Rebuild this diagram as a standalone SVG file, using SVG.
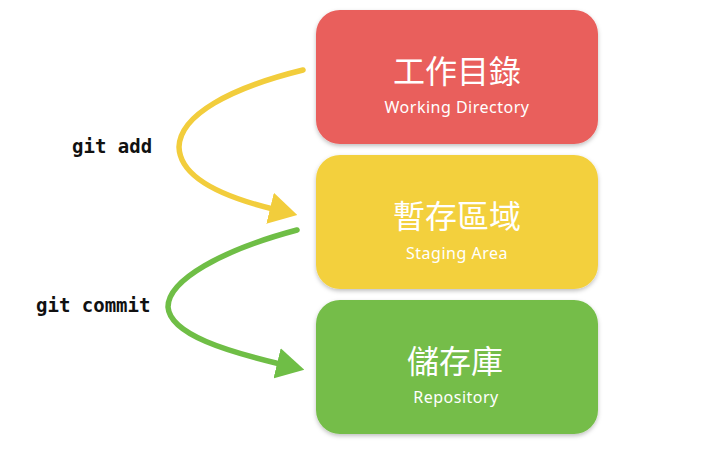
<svg xmlns="http://www.w3.org/2000/svg" width="728" height="455" viewBox="0 0 728 455">
<defs>
<filter id="sh" x="-10%" y="-10%" width="120%" height="125%">
<feDropShadow dx="0" dy="2" stdDeviation="2" flood-color="#000" flood-opacity="0.25"/>
</filter>
<marker id="ay" markerUnits="userSpaceOnUse" viewBox="0 0 28 32" markerWidth="28" markerHeight="32" refX="3" refY="16" orient="auto">
<path d="M0,0 L28,16 L0,32 z" fill="#F2CD3C"/>
</marker>
<marker id="ag" markerUnits="userSpaceOnUse" viewBox="0 0 28 31" markerWidth="28" markerHeight="31" refX="3" refY="15.5" orient="auto">
<path d="M0,0 L28,15.5 L0,31 z" fill="#6FBE46"/>
</marker>
<style>
.box{filter:url(#sh)}
.zh{font-family:"Noto Sans CJK TC","Noto Sans CJK SC",sans-serif;font-size:32px;fill:#fff;text-anchor:middle}
.en{font-family:"Noto Sans","DejaVu Sans",sans-serif;font-size:16px;fill:#fff;text-anchor:middle;letter-spacing:0.5px}
.cmd{font-family:"DejaVu Sans Mono","Liberation Mono",monospace;font-size:19px;font-weight:bold;fill:#111}
.arr{fill:none;stroke-width:5.5;stroke-linecap:round}
</style>
</defs>
<g id="working">
<rect class="box" x="316" y="10" width="282" height="134" rx="24" fill="#E95E5B"/>
<text class="zh" x="457" y="83">工作目錄</text>
<text class="en" x="457" y="113">Working Directory</text>
</g>
<g id="staging">
<rect class="box" x="316" y="155" width="282" height="134" rx="24" fill="#F3D03E"/>
<text class="zh" x="457" y="228">暫存區域</text>
<text class="en" x="457" y="259">Staging Area</text>
</g>
<g id="repository">
<rect class="box" x="316" y="300" width="282" height="134" rx="24" fill="#74BD48"/>
<text class="zh" x="455" y="373">儲存庫</text>
<text class="en" x="456" y="403">Repository</text>
</g>
<g id="connectors">
<path class="arr" d="M303,70 C230,88 180,115 179,147 C180,180 228,198 273,209" stroke="#F2CD3C" marker-end="url(#ay)"/>
<path class="arr" d="M297,230 C222,250 168,280 168,307 C170,335 230,352 280,364" stroke="#6FBE46" marker-end="url(#ag)"/>
</g>
<g id="labels">
<text class="cmd" x="72" y="153">git add</text>
<text class="cmd" x="36" y="312">git commit</text>
</g>
</svg>
